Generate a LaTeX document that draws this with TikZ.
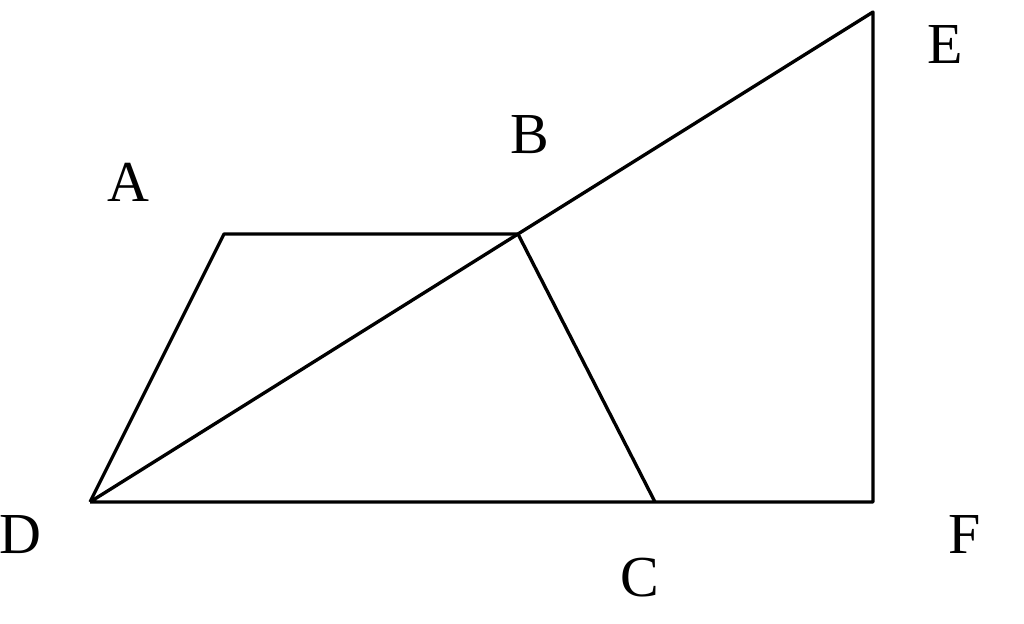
\documentclass[tikz,border=0pt]{standalone}
\usepackage{fontspec}
\setmainfont{Liberation Serif}
\begin{document}
\begin{tikzpicture}[line width=1.9pt, line join=round,
    lbl/.style={font=\fontsize{33}{40}\selectfont, inner sep=0pt}]
            \useasboundingbox (0,0) rectangle (20.48,12.46);
            \coordinate (D) at (1.8,2.42);
            \coordinate (A) at (4.48,7.78);
            \coordinate (B) at (10.36,7.78);
            \coordinate (C) at (13.1,2.42);
            \coordinate (E) at (17.46,12.22);
            \coordinate (F) at (17.46,2.42);

            \node[lbl] at (2.56,8.82) (lA) {A};
            \node[lbl] at (10.6,9.76) (lB) {B};
            \node[lbl] at (18.9,11.56) (lE) {E};
            \node[lbl] at (0.4,1.76) (lD) {D};
            \node[lbl] at (12.8,0.9) (lC) {C};
            \node[lbl] at (19.3,1.76) (lF) {F};

            \draw (D) -- (A) -- (B) -- (C);
            \draw (D) -- (B) -- (E) -- (F) -- (D);
        \end{tikzpicture}
\end{document}
